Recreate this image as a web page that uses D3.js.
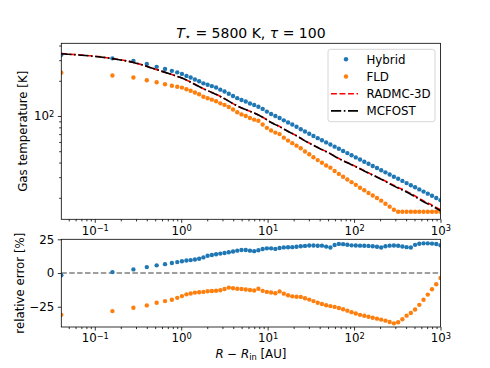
<!DOCTYPE html>
<html>
<head>
<meta charset="utf-8">
<script src="https://cdn.jsdelivr.net/npm/d3@7"></script>
<style>
  body { margin: 0; background: #fff; }
  text { font-family: "DejaVu Sans", sans-serif; fill: #000; }
</style>
</head>
<body>
<svg id="chart" width="490" height="368"></svg>
<script>
// radius grid (R - R_in, AU) shared by the Hybrid / FLD points
const radius = [0.041, 0.16, 0.28, 0.40, 0.52, 0.65, 0.78, 0.90, 1.02,
  1.15, 1.287, 1.441, 1.613, 1.806, 2.021, 2.262, 2.533, 2.835, 3.173,
  3.552, 3.977, 4.452, 4.984, 5.578, 6.244, 6.99, 7.82, 8.76, 9.80,
  10.97, 12.28, 13.75, 15.39, 17.23, 19.29, 21.59, 24.17, 27.05, 30.29,
  33.90, 37.95, 42.49, 47.56, 53.23, 59.59, 66.71, 74.67, 83.59, 93.57,
  104.7, 117.2, 131.2, 146.9, 164.4, 184.1, 206.0, 230.7, 258.2, 289.0,
  323.6, 362.2, 405.3, 453.8, 508.0, 568.6, 636.6, 712.6, 797.5, 892.9, 1000]

const hybridT = [334, 311, 295, 278, 263, 252, 243, 236, 229,
  220, 213, 205, 198, 190, 185, 180, 175, 168, 162,
  155, 148, 142, 137, 133, 128, 124, 120, 115, 109,
  104, 100, 96, 91.8, 87.9, 84.5, 80.9, 77.1, 73.6, 70.5,
  67.5, 64.7, 62.1, 59.5, 57.0, 54.7, 52.5, 50.2, 48.2, 46.2,
  44.3, 42.5, 40.7, 39.1, 37.4, 35.9, 34.4, 33.0, 31.6, 30.3,
  29.1, 27.9, 26.7, 25.6, 24.6, 23.6, 22.6, 21.7, 20.8, 19.9, 19.1]

const fldT = [234.6, 221.9, 213.2, 202.2, 194.2, 186.9, 181.3, 177.9, 174.9,
  169.2, 164.5, 159.0, 153.6, 146.2, 141.9, 137.9, 133.8, 128.2, 124.4,
  119.5, 113.5, 107.8, 103.2, 100.1, 96.1, 93.1, 91.1, 84.7, 79.2,
  75.2, 72.1, 70.0, 65.3, 61.6, 58.6, 55.8, 53.0, 49.8, 47.1,
  44.4, 42.0, 39.8, 37.8, 36.2, 33.9, 32.0, 30.3, 28.7, 27.2,
  25.8, 24.4, 23.2, 22.0, 20.9, 19.9, 18.9, 17.8, 16.8, 15.8,
  15.2, 15.2, 15.2, 15.2, 15.2, 15.2, 15.2, 15.2, 15.2, 15.2, 15.2]

const hybridErr = [-1.7, 0.7, 2.7, 4.4, 5.7, 6.6, 7.4, 8.1, 8.7,
  9.3, 9.6, 10.0, 10.6, 11.6, 12.8, 13.4, 13.9, 14.4, 14.9,
  15.4, 16.0, 16.6, 17.1, 17.1, 16.6, 16.2, 16.9, 17.8, 18.3,
  18.3, 17.9, 18.5, 19.0, 19.1, 19.2, 19.5, 19.8, 20.1, 20.4,
  20.4, 20.2, 20.3, 19.6, 18.9, 20.8, 21.6, 21.4, 21.0, 20.5,
  20.4, 20.3, 20.2, 20.1, 19.9, 19.5, 18.9, 19.8, 20.3, 20.4,
  20.2, 19.7, 19.2, 18.9, 20.9, 21.7, 22.0, 22.0, 21.8, 21.5, 20.6]

const fldErr = [-31, -28.2, -25.7, -24, -22, -20.8, -19.8, -18.4, -17.1,
  -15.8, -15.2, -14.5, -14.2, -14.0, -13.5, -13.3, -13.1, -12.8, -11.8,
  -10.8, -11.3, -11.6, -11.8, -12.2, -12.6, -13.0, -11.6, -13.2, -14.0,
  -14.4, -15.0, -13.6, -15.3, -16.5, -17.3, -17.6, -17.7, -18.7, -19.7,
  -20.8, -22.0, -22.9, -23.9, -24.5, -25.1, -25.9, -26.8, -27.9, -29.0,
  -30.0, -31.0, -31.7, -32.4, -33.1, -33.8, -34.5, -35.3, -36.3, -37.3,
  -36.5, -34.3, -31.6, -29.6, -27.0, -23.6, -19.8, -16.0, -12.0, -8.3, -3.7]

// reference Monte Carlo curves
const lineRadius = [0.041, 0.16, 0.28, 0.52, 0.78, 1.02, 1.441, 1.806, 2.262,
  2.835, 3.552, 4.452, 5.578, 6.99, 8.76, 10.97, 13.75, 17.23, 21.59, 27.05,
  33.90, 42.49, 53.23, 66.71, 83.59, 104.7, 131.2, 164.4, 206.0, 258.2,
  323.6, 405.3, 508.0, 636.6, 797.5, 1000]
const radmcT = [341, 310, 287, 249, 226, 211, 187, 171, 159,
  147, 134, 122, 113.5, 106, 97.6, 88.2, 81.2, 74.0, 67.9, 61.5,
  56.3, 51.8, 47.7, 43.4, 40.0, 37.0, 34.1, 31.4, 29.0, 26.6,
  24.5, 22.7, 20.7, 18.8, 17.3, 15.8]
const mcfostT = [340, 309, 287, 249, 226, 211, 186, 171, 159,
  147, 134, 122, 113.5, 106, 97.6, 88, 81, 73.8, 67.7, 61.3,
  56.1, 51.6, 47.5, 43.2, 39.8, 36.8, 33.9, 31.2, 28.8, 26.3,
  24.2, 22.4, 20.4, 18.5, 17.0, 15.5]

const xMajor = [0.1, 1, 10, 100, 1000]
const xMinor = [0.05, 0.06, 0.07, 0.08, 0.09, 0.2, 0.3, 0.4, 0.5, 0.6, 0.7, 0.8, 0.9,
  2, 3, 4, 5, 6, 7, 8, 9, 20, 30, 40, 50, 60, 70, 80, 90, 200, 300, 400, 500, 600, 700, 800, 900]
const tMajor = [100]
const tMinor = [20, 30, 40, 50, 60, 70, 80, 90, 200, 300, 400]
const errTicks = [-25, 0, 25]

const blue = "#1f77b4", orange = "#ff7f0e"
const left = 61.3, right = 440.5
const top1 = 43.3, bot1 = 219.3, top2 = 239.3, bot2 = 327
const fs = "11.8px"

const svg = d3.select("#chart")

const x = d3.scaleLog().domain([0.041, 1000]).range([left, right])
const yT = d3.scaleLog().domain([13.1, 418]).range([bot1, top1])
const yE = d3.scaleLinear().domain([-40, 25]).range([bot2, top2])

const defs = svg.append("defs")
defs.append("clipPath").attr("id", "clipTop").append("rect")
  .attr("x", left).attr("y", top1).attr("width", right - left).attr("height", bot1 - top1)
defs.append("clipPath").attr("id", "clipBot").append("rect")
  .attr("x", left).attr("y", top2).attr("width", right - left).attr("height", bot2 - top2)

function superscript(sel) {
  sel.selectAll(".tick text").each(function(d) {
    const e = Math.round(Math.log10(d))
    const t = d3.select(this).text("10")
    t.append("tspan").attr("dy", "-0.42em").attr("font-size", "8.3px")
      .text(e < 0 ? "\u2212" + (-e) : e)
  })
}

function styleAxis(g) {
  g.select(".domain").remove()
  g.selectAll(".tick line").attr("stroke", "#000").attr("stroke-width", 0.8)
  g.selectAll(".tick text").attr("font-size", fs).attr("font-family", "DejaVu Sans")
}

function xAxes(yPos) {
  svg.append("g").attr("transform", `translate(0,${yPos})`)
    .call(d3.axisBottom(x).tickValues(xMinor).tickSize(2.1).tickFormat(""))
    .call(styleAxis)
  svg.append("g").attr("transform", `translate(0,${yPos})`)
    .call(d3.axisBottom(x).tickValues(xMajor).tickSize(3.5).tickPadding(3.5).tickFormat(d => d))
    .call(styleAxis).call(superscript)
}

// ---- top panel ----
xAxes(bot1)
svg.append("g").attr("transform", `translate(${left},0)`)
  .call(d3.axisLeft(yT).tickValues(tMinor).tickSize(2.1).tickFormat(""))
  .call(styleAxis)
svg.append("g").attr("transform", `translate(${left},0)`)
  .call(d3.axisLeft(yT).tickValues(tMajor).tickSize(3.5).tickPadding(3.5).tickFormat(d => d))
  .call(styleAxis).call(superscript)

const plotTop = svg.append("g").attr("clip-path", "url(#clipTop)")

plotTop.append("g").selectAll("circle")
  .data(radius.map((r, i) => [r, hybridT[i]]))
  .enter().append("circle")
    .attr("cx", d => x(d[0])).attr("cy", d => yT(d[1])).attr("r", 2.2)
    .attr("fill", blue)

plotTop.append("g").selectAll("circle")
  .data(radius.map((r, i) => [r, fldT[i]]))
  .enter().append("circle")
    .attr("cx", d => x(d[0])).attr("cy", d => yT(d[1])).attr("r", 2.2)
    .attr("fill", orange)

const lineT = d3.line().x(d => x(d[0])).y(d => yT(d[1])).curve(d3.curveMonotoneX)

plotTop.append("path")
  .datum(lineRadius.map((r, i) => [r, radmcT[i]]))
  .attr("d", lineT)
  .attr("fill", "none").attr("stroke", "red").attr("stroke-width", 1.6)
  .attr("stroke-dasharray", "5.9,2.6")

plotTop.append("path")
  .datum(lineRadius.map((r, i) => [r, mcfostT[i]]))
  .attr("d", lineT)
  .attr("fill", "none").attr("stroke", "black").attr("stroke-width", 1.6)
  .attr("stroke-dasharray", "10.2,2.6,1.6,2.6")

svg.append("rect")
  .attr("x", left).attr("y", top1).attr("width", right - left).attr("height", bot1 - top1)
  .attr("fill", "none").attr("stroke", "#000").attr("stroke-width", 0.8)

// legend
const legend = svg.append("g").attr("transform", "translate(328,49.3)")
legend.append("rect")
  .attr("width", 107).attr("height", 72.4).attr("rx", 2.5)
  .attr("fill", "#fff").attr("fill-opacity", 0.8)
  .attr("stroke", "#cccccc").attr("stroke-width", 0.8)

const entries = [
  {label: "Hybrid", type: "dot", color: blue},
  {label: "FLD", type: "dot", color: orange},
  {label: "RADMC-3D", type: "line", color: "red", dash: "5.9,2.6"},
  {label: "MCFOST", type: "line", color: "black", dash: "10.2,2.6,1.6,2.6"}
]
entries.forEach((e, i) => {
  const ly = 10 + i * 17.2
  if (e.type === "dot") {
    legend.append("circle").attr("cx", 18).attr("cy", ly).attr("r", 2.2).attr("fill", e.color)
  } else {
    legend.append("line").attr("x1", 3).attr("x2", 30).attr("y1", ly).attr("y2", ly)
      .attr("stroke", e.color).attr("stroke-width", 1.6).attr("stroke-dasharray", e.dash)
  }
  legend.append("text").attr("x", 38.5).attr("y", ly).attr("dy", "0.36em")
    .attr("font-size", fs).text(e.label)
})

// ---- bottom panel ----
xAxes(bot2)
svg.append("g").attr("transform", `translate(${left},0)`)
  .call(d3.axisLeft(yE).tickValues(errTicks).tickSize(3.5).tickPadding(3.5)
    .tickFormat(d => d < 0 ? "\u2212" + (-d) : d))
  .call(styleAxis)

const plotBot = svg.append("g").attr("clip-path", "url(#clipBot)")

plotBot.append("line")
  .attr("x1", left).attr("x2", right).attr("y1", yE(0)).attr("y2", yE(0))
  .attr("stroke", "gray").attr("stroke-width", 1.5).attr("stroke-dasharray", "5.5,2.4")

plotBot.append("g").selectAll("circle")
  .data(radius.map((r, i) => [r, hybridErr[i]]))
  .enter().append("circle")
    .attr("cx", d => x(d[0])).attr("cy", d => yE(d[1])).attr("r", 2.2)
    .attr("fill", blue)

plotBot.append("g").selectAll("circle")
  .data(radius.map((r, i) => [r, fldErr[i]]))
  .enter().append("circle")
    .attr("cx", d => x(d[0])).attr("cy", d => yE(d[1])).attr("r", 2.2)
    .attr("fill", orange)

svg.append("rect")
  .attr("x", left).attr("y", top2).attr("width", right - left).attr("height", bot2 - top2)
  .attr("fill", "none").attr("stroke", "#000").attr("stroke-width", 0.8)

// ---- labels ----
const title = svg.append("text").attr("x", (left + right) / 2).attr("y", 37.5)
  .attr("text-anchor", "middle").attr("font-size", "14px")
title.append("tspan").attr("font-style", "italic").text("T")
title.append("tspan").attr("font-size", "9.8px").attr("dy", "2.8").text("\u22c6")
title.append("tspan").attr("dy", "-2.8").text(" = 5800 K, ")
title.append("tspan").attr("font-style", "italic").text("\u03c4")
title.append("tspan").text(" = 100")

svg.append("text")
  .attr("transform", `translate(23,${(top1 + bot1) / 2}) rotate(-90)`)
  .attr("text-anchor", "middle").attr("dy", "0.36em").attr("font-size", fs)
  .text("Gas temperature [K]")

svg.append("text")
  .attr("transform", `translate(20,${(top2 + bot2) / 2}) rotate(-90)`)
  .attr("text-anchor", "middle").attr("dy", "0.36em").attr("font-size", fs)
  .text("relative error [%]")

const xl = svg.append("text").attr("x", (left + right) / 2).attr("y", 358)
  .attr("text-anchor", "middle").attr("font-size", fs)
xl.append("tspan").attr("font-style", "italic").text("R")
xl.append("tspan").text(" \u2212 ")
xl.append("tspan").attr("font-style", "italic").text("R")
xl.append("tspan").attr("font-size", "8.3px").attr("dy", "2.2").text("in")
xl.append("tspan").attr("dy", "-2.2").text(" [AU]")
</script>
</body>
</html>
